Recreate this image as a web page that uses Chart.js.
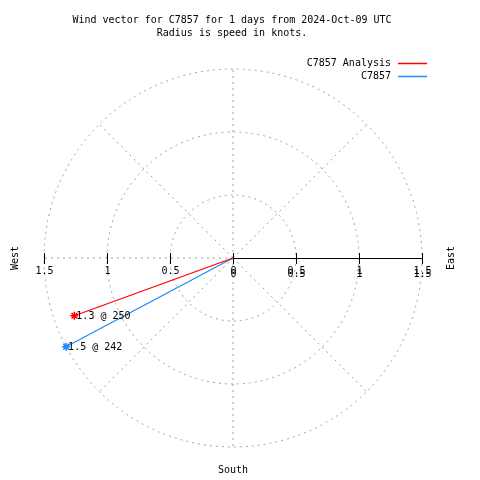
<!DOCTYPE html>
<html>
<head>
<meta charset="utf-8">
<script src="https://cdn.jsdelivr.net/npm/chart.js@4"></script>
<style>
  html, body { margin: 0; padding: 0; background: #fff; }
  #wrap { width: 480px; height: 480px; }
</style>
</head>
<body>
<div id="wrap"><canvas id="myChart" width="480" height="480"></canvas></div>
<script>
// data
const seriesNames = ["C7857 Analysis", "C7857"];
const seriesSpeed = [1.34, 1.5];      // knots
const seriesDir = [250, 242];         // degrees
const seriesColors = ["#ff0000", "#1a8cff"];
const radialTicks = [0, 0.5, 1, 1.5];
const ringValues = [0.5, 1, 1.5];
const spokeAngles = [0, 45, 90, 135, 180, 225, 270, 315];
const titleLines = ["Wind vector for C7857 for 1 days from 2024-Oct-09 UTC", "Radius is speed in knots."];

const FONT = "10px 'DejaVu Sans Mono', monospace";
const RMAX = 1.5;

// bearing -> x/y (north up, east right)
function toXY(speed, dir) {
  const a = dir * Math.PI / 180;
  return { x: speed * Math.sin(a), y: speed * Math.cos(a) };
}

const datasets = seriesNames.map((name, i) => {
  const p = toXY(seriesSpeed[i], seriesDir[i]);
  return {
    label: name,
    data: [{ x: 0, y: 0 }, p],
    borderColor: seriesColors[i],
    backgroundColor: seriesColors[i],
    borderWidth: 1.3,
    showLine: true,
    pointStyle: "star",
    pointRadius: [0, 4],
    pointBorderWidth: 1.5,
    pointHoverRadius: [0, 4],
  };
});

const polarGrid = {
  id: "polarGrid",
  beforeDatasetsDraw(chart) {
    const ctx = chart.ctx;
    const xs = chart.scales.x, ys = chart.scales.y;
    const cx = xs.getPixelForValue(0), cy = ys.getPixelForValue(0);
    const pr = xs.getPixelForValue(RMAX) - cx;
    ctx.save();
    ctx.strokeStyle = "#a0a0a0";
    ctx.lineWidth = 1;
    ctx.setLineDash([2, 4]);
    ringValues.forEach((r) => {
      const rad = xs.getPixelForValue(r) - cx;
      ctx.beginPath();
      ctx.arc(cx, cy, rad, 0, Math.PI * 2);
      ctx.stroke();
    });
    spokeAngles.forEach((ang) => {
      if (ang === 90) return; // solid axis drawn below
      const p = toXY(RMAX, ang);
      ctx.beginPath();
      ctx.moveTo(cx, cy);
      ctx.lineTo(xs.getPixelForValue(p.x), ys.getPixelForValue(p.y));
      ctx.stroke();
    });
    ctx.setLineDash([]);
    // solid axis to the east
    ctx.strokeStyle = "#000";
    ctx.beginPath();
    ctx.moveTo(cx, cy + 0.5);
    ctx.lineTo(cx + pr, cy + 0.5);
    ctx.stroke();
    // ticks + labels both sides
    ctx.font = FONT;
    ctx.fillStyle = "#000";
    ctx.textAlign = "center";
    ctx.textBaseline = "top";
    radialTicks.forEach((t) => {
      [1, -1].forEach((side) => {
        if (t === 0 && side === -1) return;
        const px = Math.round(xs.getPixelForValue(side * t)) + 0.5;
        ctx.beginPath();
        ctx.moveTo(px, cy - 5);
        ctx.lineTo(px, cy + 6);
        ctx.stroke();
        ctx.fillText(String(t), px, cy + 8);
        if (side === 1) ctx.fillText(String(t), px, cy + 11);
      });
    });
    ctx.restore();
  },
  afterDraw(chart) {
    const ctx = chart.ctx;
    const xs = chart.scales.x, ys = chart.scales.y;
    const cx = xs.getPixelForValue(0), cy = ys.getPixelForValue(0);
    ctx.save();
    ctx.font = FONT;
    ctx.fillStyle = "#000";
    ctx.textBaseline = "middle";
    // titles
    ctx.textAlign = "center";
    titleLines.forEach((s, i) => ctx.fillText(s, 232, 20 + i * 13));
    // point labels
    ctx.textAlign = "left";
    chart.data.datasets.forEach((ds, i) => {
      const pt = chart.getDatasetMeta(i).data[1];
      ctx.fillText(seriesSpeed[i].toFixed(1) + " @ " + seriesDir[i], pt.x + 2, pt.y + 1);
    });
    // legend
    ctx.textAlign = "right";
    seriesNames.forEach((n, i) => {
      const y = 63 + i * 13;
      ctx.fillStyle = "#000";
      ctx.fillText(n, 391, y);
      ctx.strokeStyle = seriesColors[i];
      ctx.lineWidth = 1.5;
      ctx.beginPath();
      ctx.moveTo(398, y + 0.5);
      ctx.lineTo(427, y + 0.5);
      ctx.stroke();
    });
    // compass labels
    ctx.fillStyle = "#000";
    ctx.textAlign = "center";
    ctx.fillText("South", cx, 470);
    ctx.translate(15, cy);
    ctx.rotate(-Math.PI / 2);
    ctx.fillText("West", 0, 0);
    ctx.rotate(Math.PI / 2);
    ctx.translate(451 - 15, 0);
    ctx.rotate(-Math.PI / 2);
    ctx.fillText("East", 0, 0);
    ctx.restore();
  },
};

const ctx = document.getElementById("myChart").getContext("2d");
new Chart(ctx, {
  type: "scatter",
  data: { datasets: datasets },
  options: {
    responsive: false,
    animation: false,
    layout: { padding: { left: 44, right: 58, top: 69, bottom: 33 } },
    scales: {
      x: { type: "linear", min: -RMAX, max: RMAX, display: false },
      y: { type: "linear", min: -RMAX, max: RMAX, display: false },
    },
    plugins: {
      legend: { display: false },
      title: { display: false },
      tooltip: { enabled: false },
    },
  },
  plugins: [polarGrid],
});
</script>
</body>
</html>
